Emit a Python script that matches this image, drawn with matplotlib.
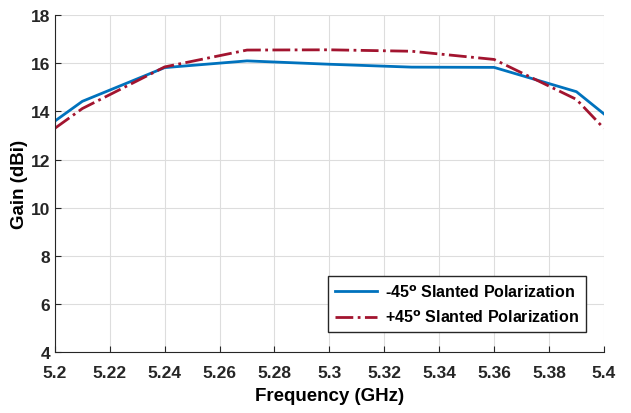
import matplotlib; matplotlib.use('Agg')
import matplotlib.pyplot as plt
import numpy as np

plt.rcParams.update({'font.family': ['Liberation Sans', 'DejaVu Sans'], 'font.weight': 'bold', 'font.size': 12})

freq = [5.20, 5.21, 5.24, 5.27, 5.30, 5.33, 5.36, 5.39, 5.40]
gain_m45 = [13.6, 14.42, 15.82, 16.1, 15.96, 15.84, 15.83, 14.82, 13.9]
gain_p45 = [13.3, 14.12, 15.85, 16.55, 16.56, 16.5, 16.16, 14.5, 13.3]

fig = plt.figure(figsize=(6.31, 4.14), dpi=100)
ax = fig.add_axes([0.087, 0.147, 0.870, 0.814])
ax.plot(freq, gain_m45, color='#0072BD', lw=2, label='-45$^\\mathbf{o}$ Slanted Polarization')
ax.plot(freq, gain_p45, color='#A2142F', lw=2, ls='-.', label='+45$^\\mathbf{o}$ Slanted Polarization')
ax.set_xlim(5.2, 5.4); ax.set_ylim(4, 18)
ax.set_xticks(np.arange(5.2, 5.401, 0.02))
ax.set_xticklabels(['5.2', '5.22', '5.24', '5.26', '5.28', '5.3', '5.32', '5.34', '5.36', '5.38', '5.4'])
ax.set_yticks(range(4, 19, 2))
ax.tick_params(direction='in', length=4, labelsize=12.5, colors='#262626')
ax.tick_params(axis='x', pad=9)
for s in ['top', 'right']:
    ax.spines[s].set_visible(False)
for s in ['left', 'bottom']:
    ax.spines[s].set_color('#262626')
ax.grid(color='#dddddd', lw=0.8)
ax.set_xlabel('Frequency (GHz)', fontsize=13.5, fontweight='bold', labelpad=5)
ax.set_ylabel('Gain (dBi)', fontsize=13.5, fontweight='bold', labelpad=2)
leg = ax.legend(loc='lower right', bbox_to_anchor=(0.982, 0.035), fontsize=11.5, fancybox=False,
                edgecolor='#262626', framealpha=1, handlelength=2.6, handletextpad=0.5,
                borderpad=0.45, labelspacing=0.55)
leg.get_frame().set_linewidth(1)
fig.savefig('out.png', dpi=100)
